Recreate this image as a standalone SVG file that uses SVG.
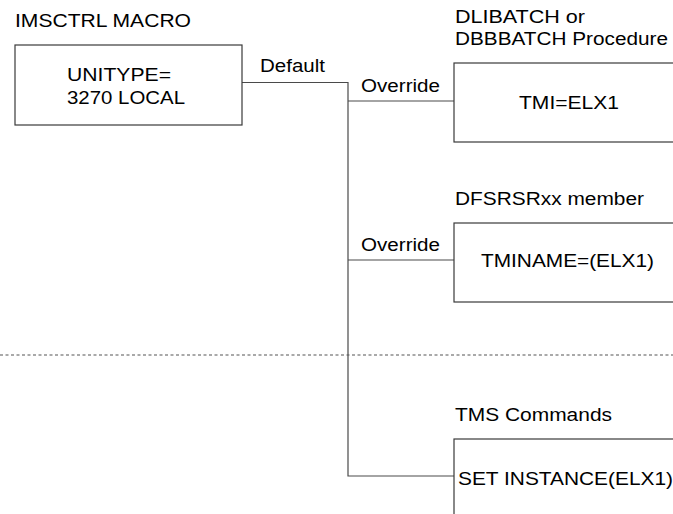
<svg xmlns="http://www.w3.org/2000/svg" width="673" height="514" viewBox="0 0 673 514">
<style>
text{font-family:"Liberation Sans",Arial,sans-serif;font-size:17.5px;fill:#000}
.box{fill:#fff;stroke:#3a3a3a;stroke-width:1.2}
.ln{fill:none;stroke:#4a4a4a;stroke-width:1.2}
.dot{fill:none;stroke:#555;stroke-width:1.2;stroke-dasharray:3 2.5}
</style>
<rect width="673" height="514" fill="#fff"/>
<g id="connectors">
<path class="ln" d="M242 82.5 H348 V476 H454"/>
<path class="ln" d="M348 101 H454"/>
<path class="ln" d="M348 260 H454"/>
<text x="260" y="72" textLength="65" lengthAdjust="spacingAndGlyphs">Default</text>
<text x="361" y="92" textLength="79" lengthAdjust="spacingAndGlyphs">Override</text>
<text x="361" y="251" textLength="79" lengthAdjust="spacingAndGlyphs">Override</text>
</g>
<g id="divider">
<line class="dot" x1="0" y1="355" x2="673" y2="355"/>
</g>
<g id="imsctrl">
<text x="15" y="27" textLength="176" lengthAdjust="spacingAndGlyphs">IMSCTRL MACRO</text>
<rect class="box" x="15" y="45" width="227" height="80"/>
<text x="67" y="81" textLength="104" lengthAdjust="spacingAndGlyphs">UNITYPE=</text>
<text x="67" y="104" textLength="118" lengthAdjust="spacingAndGlyphs">3270 LOCAL</text>
</g>
<g id="dlibatch">
<text x="455" y="23" textLength="130" lengthAdjust="spacingAndGlyphs">DLIBATCH or</text>
<text x="455" y="45" textLength="213" lengthAdjust="spacingAndGlyphs">DBBBATCH Procedure</text>
<rect class="box" x="454" y="63" width="240" height="79"/>
<text x="519" y="109" textLength="100" lengthAdjust="spacingAndGlyphs">TMI=ELX1</text>
</g>
<g id="dfsrsr">
<text x="455" y="205" textLength="189" lengthAdjust="spacingAndGlyphs">DFSRSRxx member</text>
<rect class="box" x="454" y="223" width="240" height="79"/>
<text x="481" y="267" textLength="173" lengthAdjust="spacingAndGlyphs">TMINAME=(ELX1)</text>
</g>
<g id="tms">
<text x="455" y="421" textLength="157" lengthAdjust="spacingAndGlyphs">TMS Commands</text>
<rect class="box" x="454" y="439" width="240" height="90"/>
<text x="458" y="485" textLength="215" lengthAdjust="spacingAndGlyphs">SET INSTANCE(ELX1)</text>
</g>
</svg>
